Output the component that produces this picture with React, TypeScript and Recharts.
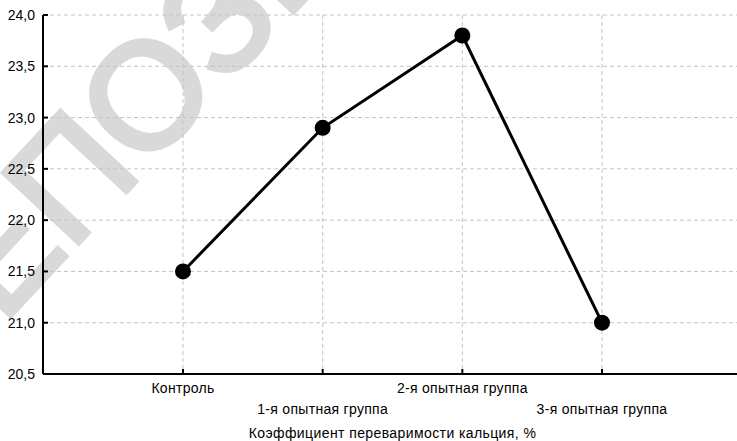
import { CartesianGrid, Line, LineChart, XAxis, YAxis } from "recharts";

const groups = ["Контроль", "1-я опытная группа", "2-я опытная группа", "3-я опытная группа"];
const calciumValues = [21.5, 22.9, 23.8, 21.0];
const yTicks = [20.5, 21, 21.5, 22, 22.5, 23, 23.5, 24];
const axisTitle = "Коэффициент переваримости кальция, %";
const watermark = "РЕПОЗИТОРИЙ";

const data = groups.map((group, i) => ({ group, value: calciumValues[i] }));

const font = "'Liberation Sans', Arial, sans-serif";

function YTick({ x, y, payload }: any) {
  return (
    <g>
      <line x1={x} x2={x + 5} y1={y} y2={y} stroke="#000" strokeWidth={2} />
      <text x={x - 8} y={y + 5} textAnchor="end" fontSize={14} fill="#000" fontFamily={font}>
        {Number(payload.value).toFixed(1).replace(".", ",")}
      </text>
    </g>
  );
}

function BottomTick({ x, y, payload }: any) {
  const i = groups.indexOf(payload.value);
  // labels alternate between two rows
  const dy = i % 2 === 0 ? 19 : 40;
  return (
    <g>
      <line x1={x} x2={x} y1={y} y2={y - 5} stroke="#000" strokeWidth={2} />
      <text
        x={x}
        y={y + dy}
        textAnchor="middle"
        fontSize={14}
        letterSpacing={0.3}
        fill="#000"
        fontFamily={font}
      >
        {payload.value}
      </text>
    </g>
  );
}

function TopTick({ x, y }: any) {
  return <line x1={x} x2={x} y1={y} y2={y + 5} stroke="#000" strokeWidth={2} />;
}

export default function App() {
  return (
    <div
      style={{
        position: "absolute",
        left: 0,
        top: 0,
        width: 737,
        height: 441,
        overflow: "hidden",
        background: "#fff",
      }}
    >
      <svg width={737} height={441} style={{ position: "absolute", left: 0, top: 0 }}>
        <text
          x={-66}
          y={398}
          transform="rotate(-47 -66 398)"
          fontSize={150}
          fontFamily={font}
          fill="#d9d9d9"
          stroke="#d9d9d9"
          strokeWidth={5}
        >
          {watermark}
        </text>
      </svg>
      <div style={{ position: "absolute", left: 0, top: 0 }}>
        <LineChart width={760} height={441} data={data} margin={{ top: 15, right: 18, bottom: 0, left: 0 }}>
          <CartesianGrid stroke="#c4c4c4" strokeDasharray="4 3" />
          <XAxis
            dataKey="group"
            padding={{ left: 140, right: 140 }}
            height={67}
            tickSize={0}
            tickMargin={0}
            tickLine={false}
            interval={0}
            axisLine={{ stroke: "#000", strokeWidth: 2 }}
            tick={<BottomTick />}
            label={{
              value: axisTitle,
              position: "insideBottom",
              offset: 3,
              fill: "#000",
              fontSize: 14,
              letterSpacing: 0.4,
              fontFamily: font,
            }}
          />
          <XAxis
            xAxisId="top"
            orientation="top"
            dataKey="group"
            padding={{ left: 140, right: 140 }}
            height={0}
            tickSize={0}
            tickMargin={0}
            tickLine={false}
            interval={0}
            axisLine={{ stroke: "#000", strokeWidth: 2 }}
            tick={<TopTick />}
          />
          <YAxis
            type="number"
            domain={[20.5, 24]}
            ticks={yTicks}
            width={43}
            tickSize={0}
            tickMargin={0}
            tickLine={false}
            interval={0}
            axisLine={{ stroke: "#000", strokeWidth: 2 }}
            tick={<YTick />}
          />
          <Line
            dataKey="value"
            stroke="#000"
            strokeWidth={3}
            dot={{ r: 8, fill: "#000", stroke: "#000", strokeWidth: 0 }}
            isAnimationActive={false}
          />
        </LineChart>
      </div>
    </div>
  );
}
